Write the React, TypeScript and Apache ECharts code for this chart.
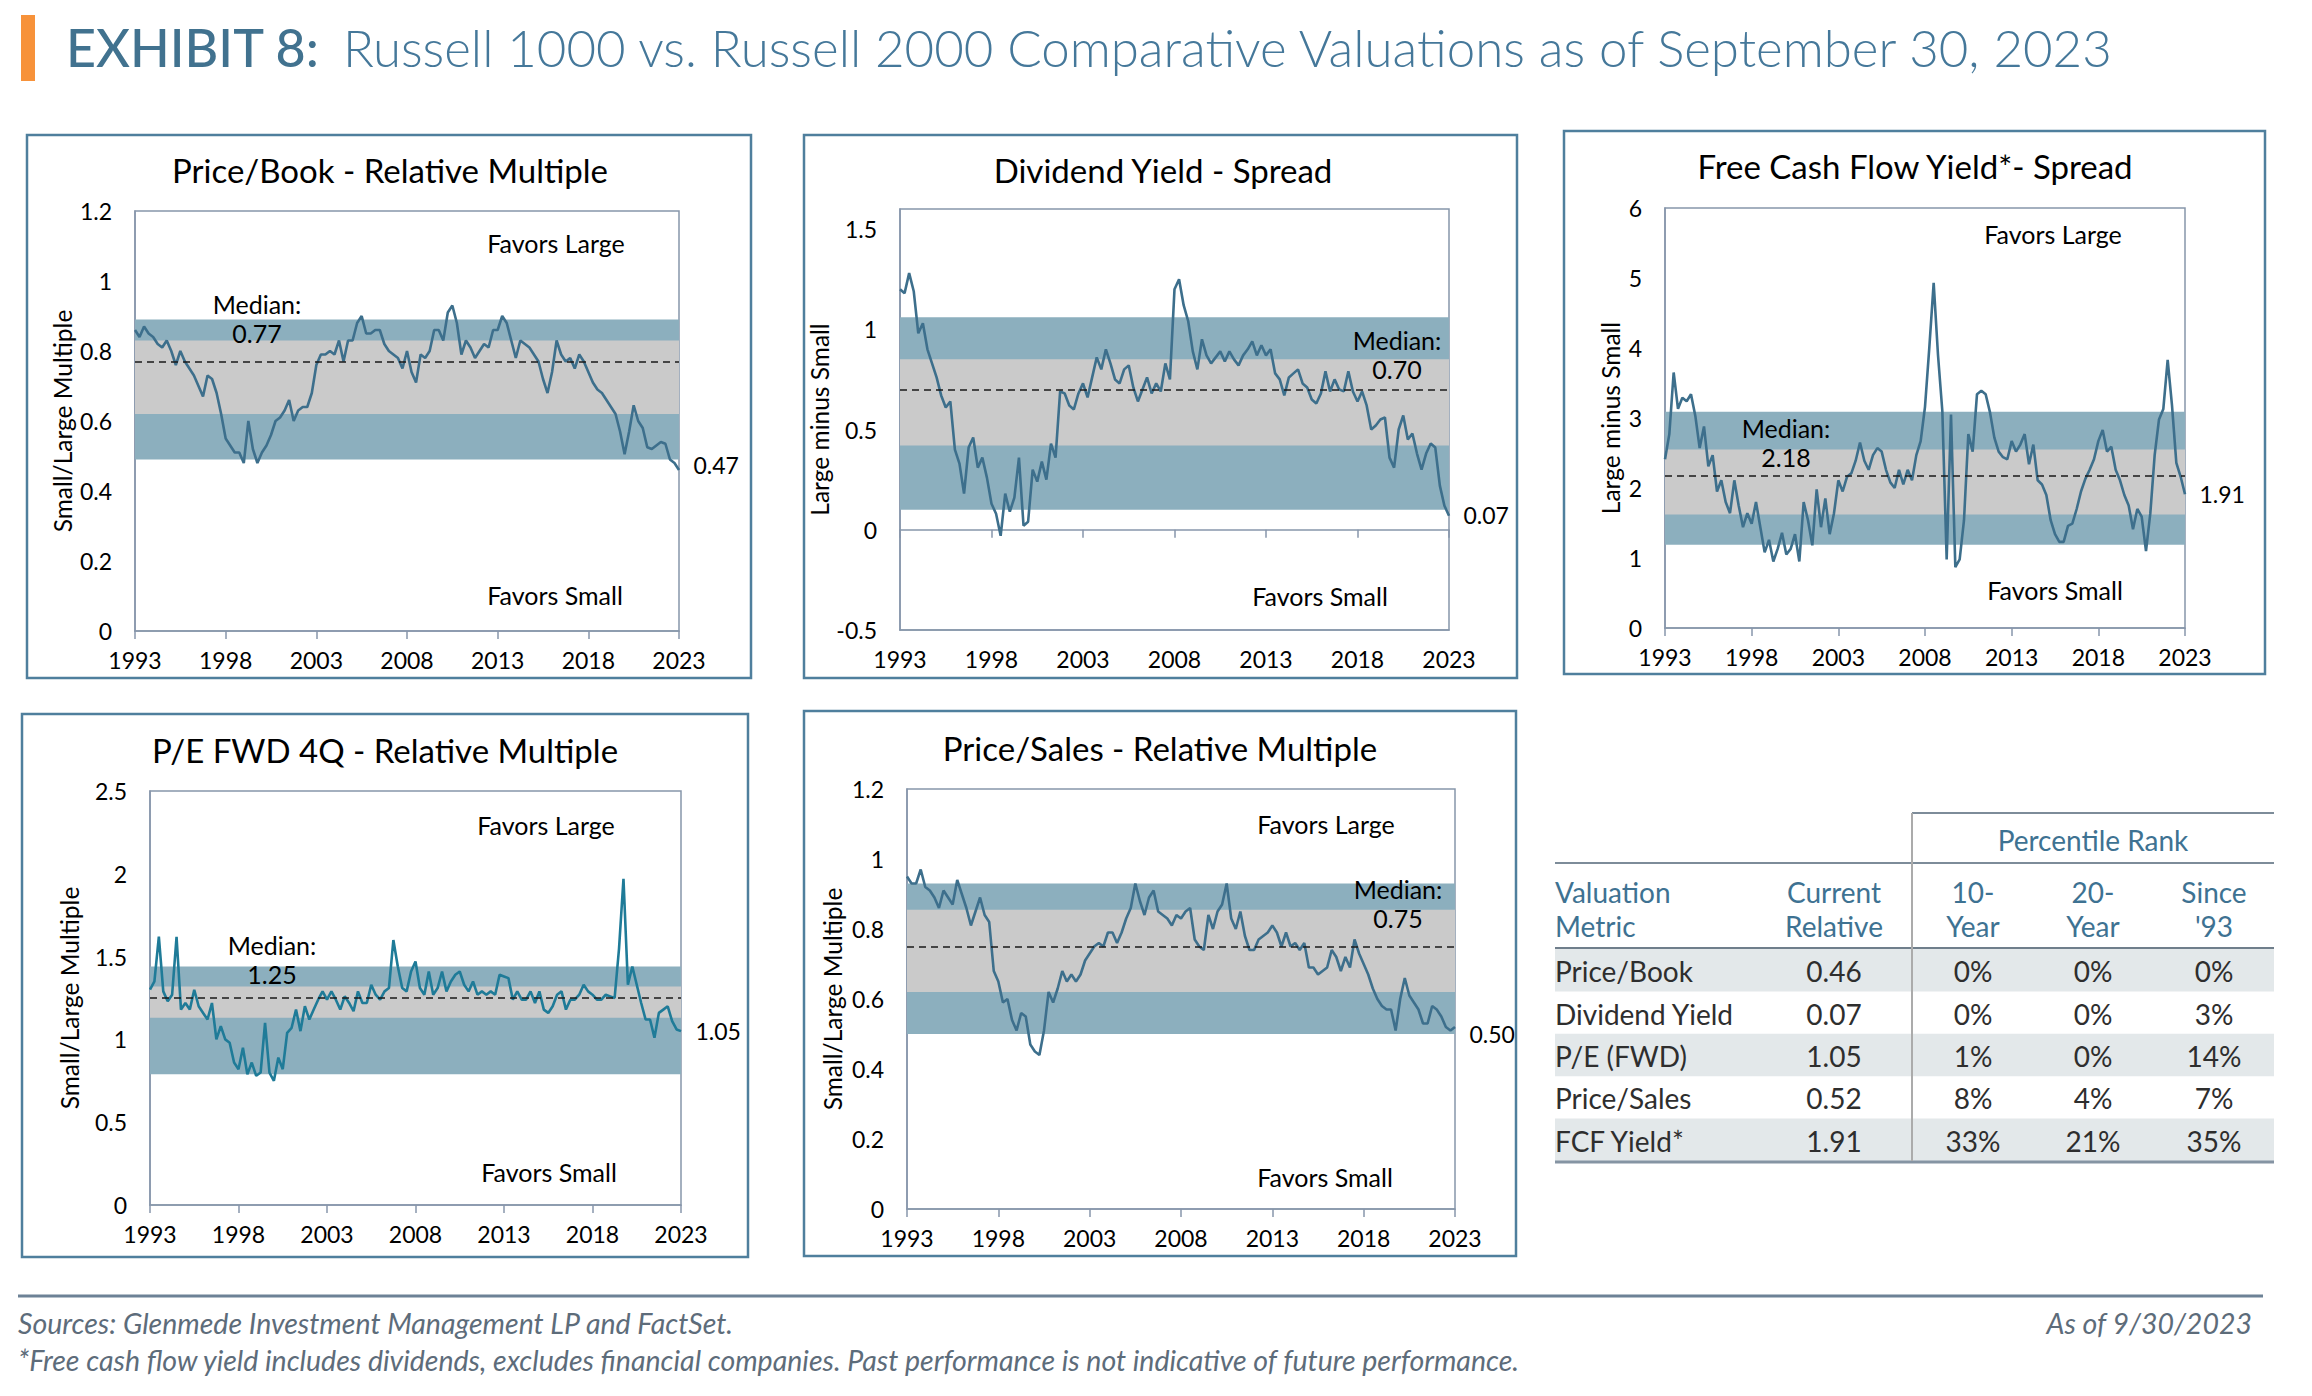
import React, { useEffect, useRef } from "react";
import * as echarts from "echarts";

const FONT = "Lato, 'Noto Sans', 'DejaVu Sans', sans-serif";
const START_YEAR = 1993;
const END_YEAR = 2023;
const STEP_YEARS = 0.25; // quarterly observations
const X_INTERVAL = 5;

// ---- series values (quarterly, Q1 1993 .. 2023) ----
const priceBookValues = [
  0.86, 0.84, 0.87, 0.85, 0.84, 0.82, 0.81, 0.83, 0.8, 0.76, 0.8, 0.77,
  0.75, 0.73, 0.7, 0.67, 0.73, 0.72, 0.68, 0.62, 0.55, 0.53, 0.51, 0.51,
  0.48, 0.6, 0.52, 0.48, 0.51, 0.53, 0.56, 0.6, 0.61, 0.63, 0.66, 0.6,
  0.63, 0.64, 0.64, 0.68, 0.76, 0.79, 0.79, 0.8, 0.79, 0.83, 0.77, 0.83,
  0.83, 0.88, 0.9, 0.85, 0.85, 0.86, 0.86, 0.82, 0.8, 0.79, 0.78, 0.75,
  0.8, 0.74, 0.71, 0.79, 0.78, 0.8, 0.86, 0.86, 0.83, 0.91, 0.93, 0.88,
  0.79, 0.83, 0.81, 0.78, 0.8, 0.82, 0.81, 0.86, 0.86, 0.9, 0.88, 0.83,
  0.78, 0.83, 0.82, 0.81, 0.79, 0.77, 0.72, 0.68, 0.74, 0.83, 0.79, 0.77,
  0.78, 0.75, 0.79, 0.77, 0.74, 0.71, 0.69, 0.68, 0.66, 0.64, 0.62, 0.57,
  0.505, 0.57, 0.645, 0.6, 0.58, 0.525, 0.52, 0.53, 0.54, 0.535, 0.49, 0.48,
  0.46,
];
const dividendSpreadValues = [
  1.2, 1.18, 1.28, 1.19, 0.98, 1.03, 0.9, 0.83, 0.76, 0.67, 0.61, 0.64,
  0.4, 0.33, 0.18, 0.41, 0.46, 0.31, 0.36, 0.26, 0.13, 0.08, -0.03, 0.18,
  0.09, 0.16, 0.36, 0.02, 0.04, 0.3, 0.24, 0.34, 0.25, 0.43, 0.36, 0.69,
  0.68, 0.62, 0.6, 0.68, 0.73, 0.66, 0.76, 0.86, 0.8, 0.9, 0.83, 0.75,
  0.73, 0.8, 0.82, 0.71, 0.64, 0.7, 0.76, 0.68, 0.73, 0.69, 0.83, 0.75,
  1.2, 1.25, 1.12, 1.04, 0.89, 0.8, 0.95, 0.87, 0.83, 0.86, 0.89, 0.84,
  0.89, 0.85, 0.82, 0.87, 0.9, 0.94, 0.87, 0.92, 0.87, 0.9, 0.78, 0.75,
  0.67, 0.76, 0.78, 0.8, 0.73, 0.71, 0.65, 0.63, 0.68, 0.79, 0.69, 0.75,
  0.7, 0.69, 0.79, 0.69, 0.64, 0.69, 0.62, 0.5, 0.52, 0.55, 0.56, 0.36,
  0.31, 0.5, 0.57, 0.45, 0.48, 0.38, 0.3, 0.38, 0.43, 0.41, 0.22, 0.12,
  0.07,
];
const fcfSpreadValues = [
  2.41, 2.77, 3.65, 3.13, 3.29, 3.24, 3.34, 3.03, 2.57, 2.88, 2.31, 2.47,
  1.95, 2.11, 1.8, 1.64, 2.11, 1.75, 1.44, 1.64, 1.49, 1.8, 1.44, 1.08,
  1.26, 0.95, 1.13, 1.36, 1.05, 1.13, 1.34, 0.95, 1.8, 1.54, 1.18, 1.98,
  1.44, 1.85, 1.34, 1.64, 2.11, 1.95, 2.16, 2.21, 2.39, 2.65, 2.39, 2.26,
  2.47, 2.57, 2.52, 2.26, 2.08, 2.0, 2.26, 2.05, 2.26, 2.11, 2.47, 2.67,
  3.16, 4.01, 4.93, 3.9, 3.1, 0.98, 3.05, 0.87, 0.98, 1.54, 2.77, 2.52,
  3.34, 3.39, 3.34, 3.08, 2.72, 2.52, 2.44, 2.41, 2.67, 2.52, 2.62, 2.77,
  2.34, 2.62, 2.11, 2.05, 1.9, 1.54, 1.34, 1.23, 1.23, 1.46, 1.49, 1.7,
  1.95, 2.13, 2.26, 2.41, 2.67, 2.83, 2.52, 2.59, 2.26, 2.11, 1.9, 1.75,
  1.41, 1.7, 1.59, 1.1, 1.64, 2.47, 2.98, 3.13, 3.83, 3.18, 2.36, 2.16,
  1.91,
];
const peFwdValues = [
  1.3, 1.35, 1.62, 1.29, 1.23, 1.27, 1.62, 1.18, 1.22, 1.18, 1.3, 1.2,
  1.16, 1.12, 1.22, 1.0, 1.08, 1.0, 0.98, 0.86, 0.82, 0.95, 0.79, 0.86,
  0.78, 0.8, 1.1, 0.8, 0.75, 0.89, 0.82, 1.04, 1.07, 1.18, 1.05, 1.2,
  1.12, 1.18, 1.24, 1.29, 1.24, 1.29, 1.24, 1.18, 1.26, 1.22, 1.17, 1.29,
  1.22, 1.22, 1.33, 1.27, 1.24, 1.29, 1.31, 1.6, 1.44, 1.31, 1.29, 1.41,
  1.47, 1.31, 1.27, 1.41, 1.27, 1.31, 1.41, 1.29, 1.35, 1.39, 1.41, 1.33,
  1.29, 1.35, 1.27, 1.29, 1.27, 1.29, 1.27, 1.39, 1.38, 1.37, 1.24, 1.29,
  1.24, 1.24, 1.29, 1.22, 1.29, 1.18, 1.16, 1.2, 1.27, 1.29, 1.18, 1.24,
  1.24, 1.27, 1.33, 1.29, 1.27, 1.24, 1.24, 1.27, 1.26, 1.25, 1.55, 1.97,
  1.33, 1.44, 1.33, 1.22, 1.12, 1.12, 1.01, 1.16, 1.18, 1.2, 1.11, 1.06,
  1.05,
];
const priceSalesValues = [
  0.95, 0.93, 0.93, 0.97, 0.92, 0.91, 0.89, 0.86, 0.91, 0.89, 0.87, 0.94,
  0.9, 0.86, 0.81, 0.85, 0.89, 0.84, 0.82, 0.68, 0.65, 0.59, 0.6, 0.54,
  0.51, 0.56, 0.55, 0.47, 0.45, 0.44, 0.51, 0.62, 0.59, 0.63, 0.68, 0.65,
  0.67, 0.65, 0.67, 0.71, 0.73, 0.75, 0.76, 0.75, 0.79, 0.79, 0.76, 0.79,
  0.83, 0.86, 0.93, 0.88, 0.84, 0.89, 0.91, 0.85, 0.84, 0.83, 0.81, 0.84,
  0.83, 0.85, 0.86, 0.77, 0.75, 0.74, 0.84, 0.8, 0.85, 0.87, 0.93, 0.83,
  0.8, 0.85, 0.78, 0.74, 0.74, 0.77, 0.78, 0.79, 0.81, 0.79, 0.75, 0.79,
  0.75, 0.76, 0.74, 0.76, 0.69, 0.69, 0.67, 0.68, 0.69, 0.74, 0.72, 0.68,
  0.72, 0.69, 0.77, 0.73, 0.7, 0.67, 0.63, 0.6, 0.58, 0.57, 0.57, 0.51,
  0.6, 0.66, 0.61, 0.59, 0.57, 0.53, 0.53, 0.58, 0.57, 0.55, 0.52, 0.51,
  0.52,
];

// medians and bands (outer = blue, inner = grey)
const medianValues = [0.77, 0.7, 2.18, 1.25, 0.75];
const medianLabels = ["0.77", "0.70", "2.18", "1.25", "0.75"];
const outerBands = [[0.49, 0.89], [0.1, 1.06], [1.19, 3.09], [0.79, 1.44], [0.5, 0.93]];
const innerBands = [[0.62, 0.83], [0.42, 0.85], [1.62, 2.55], [1.13, 1.32], [0.62, 0.855]];
const currentLabels = ["0.47", "0.07", "1.91", "1.05", "0.50"];

// table
const tableMetrics = ["Price/Book", "Dividend Yield", "P/E (FWD)", "Price/Sales", "FCF Yield*"];
const tableCurrent = ["0.46", "0.07", "1.05", "0.52", "1.91"];
const rank10Year = ["0%", "0%", "1%", "8%", "33%"];
const rank20Year = ["0%", "0%", "0%", "4%", "21%"];
const rankSince93 = ["0%", "3%", "14%", "7%", "35%"];

const BAND_BLUE = "#8cafbe";
const BAND_GREY = "#cacaca";
const AXIS_COLOR = "#8796ab";
const BOX_COLOR = "#4f7f9d";
const HEAD_BLUE = "#3e7292";

const panels = [
  {
    title: "Price/Book - Relative Multiple", yName: "Small/Large Multiple", values: priceBookValues,
    yMin: 0, yMax: 1.2, yInterval: 0.2, lineColor: "#3d6f8c",
    grid: { left: 135, top: 211, width: 544, height: 420 }, box: [27, 135, 724, 543],
    titlePos: [390, 170], nameGap: 62, favorsLarge: [556, 243], favorsSmall: [555, 595], medianPos: [257, 304], endOffset: -5,
  },
  {
    title: "Dividend Yield - Spread", yName: "Large minus Small", values: dividendSpreadValues,
    yMin: -0.5, yMax: 1.6, yInterval: 0.5, lineColor: "#3d6f8c",
    grid: { left: 900, top: 209, width: 549, height: 421 }, box: [804, 135, 713, 543],
    titlePos: [1163, 170], nameGap: 63, favorsLarge: null, favorsSmall: [1320, 596], medianPos: [1397, 340], endOffset: -1,
  },
  {
    title: "Free Cash Flow Yield*- Spread", yName: "Large minus Small", values: fcfSpreadValues,
    yMin: 0, yMax: 6, yInterval: 1, lineColor: "#3d6f8c",
    grid: { left: 1665, top: 208, width: 520, height: 420 }, box: [1564, 131, 701, 543],
    titlePos: [1915, 166], nameGap: 44, favorsLarge: [2053, 234], favorsSmall: [2055, 590], medianPos: [1786, 428], endOffset: 0,
  },
  {
    title: "P/E FWD 4Q - Relative Multiple", yName: "Small/Large Multiple", values: peFwdValues,
    yMin: 0, yMax: 2.5, yInterval: 0.5, lineColor: "#1f7b98",
    grid: { left: 150, top: 791, width: 531, height: 414 }, box: [22, 714, 726, 543],
    titlePos: [385, 750], nameGap: 70, favorsLarge: [546, 825], favorsSmall: [549, 1172], medianPos: [272, 945], endOffset: 0,
  },
  {
    title: "Price/Sales - Relative Multiple", yName: "Small/Large Multiple", values: priceSalesValues,
    yMin: 0, yMax: 1.2, yInterval: 0.2, lineColor: "#3d6f8c",
    grid: { left: 907, top: 789, width: 548, height: 420 }, box: [804, 711, 712, 545],
    titlePos: [1160, 748], nameGap: 64, favorsLarge: [1326, 824], favorsSmall: [1325, 1177], medianPos: [1398, 889], endOffset: 7,
  },
];

const toPairs = (values: number[]) => values.map((v, i) => [START_YEAR + i * STEP_YEARS, v]);

function txt(text: string, x: number, y: number, opts: any = {}) {
  const align = opts.align || "center";
  const vAlign = opts.verticalAlign || "middle";
  return {
    type: "text",
    x,
    y,
    z: 100,
    silent: true,
    style: {
      text,
      fill: opts.color || "#000",
      fontSize: opts.fontSize || 25,
      fontFamily: FONT,
      fontWeight: opts.fontWeight || "normal",
      fontStyle: opts.fontStyle || "normal",
      lineHeight: opts.lineHeight,
      align,
      verticalAlign: vAlign,
      textAlign: align,
      textVerticalAlign: vAlign,
    },
  };
}

function line(x1: number, y1: number, x2: number, y2: number, color: string, width: number) {
  return { type: "line", z: 50, silent: true, shape: { x1, y1, x2, y2 }, style: { stroke: color, lineWidth: width } };
}

function buildOption() {
  const grid = panels.map((p) => ({
    ...p.grid,
    show: true,
    borderColor: AXIS_COLOR,
    borderWidth: 1.5,
    backgroundColor: "transparent",
  }));

  const xBase = (gridIndex: number) => ({
    type: "value",
    gridIndex,
    min: START_YEAR,
    max: END_YEAR,
    interval: X_INTERVAL,
    position: "bottom",
    splitLine: { show: false },
    axisLine: { show: true, onZero: false, lineStyle: { color: AXIS_COLOR, width: 1.5 } },
    axisTick: { show: true, length: 8, lineStyle: { color: AXIS_COLOR, width: 1.5 } },
    axisLabel: {
      show: true,
      margin: 17,
      fontSize: 23,
      fontFamily: FONT,
      color: "#000",
      formatter: (v: number) => String(Math.round(v)),
    },
  });

  const xAxis: any[] = [];
  const seriesXIndex: number[] = [];
  panels.forEach((p, i) => {
    if (p.yMin < 0) {
      const labelsAxis: any = xBase(i);
      labelsAxis.axisTick = { show: false };
      seriesXIndex.push(xAxis.length);
      xAxis.push(labelsAxis);
      const zeroAxis: any = xBase(i);
      zeroAxis.axisLine = { show: true, onZero: true, lineStyle: { color: AXIS_COLOR, width: 1.5 } };
      zeroAxis.axisLabel = { show: false };
      xAxis.push(zeroAxis);
    } else {
      seriesXIndex.push(xAxis.length);
      xAxis.push(xBase(i));
    }
  });

  const yAxis = panels.map((p, i) => ({
    type: "value",
    gridIndex: i,
    min: p.yMin,
    max: p.yMax,
    interval: p.yInterval,
    splitLine: { show: false },
    axisLine: { show: true, onZero: false, lineStyle: { color: AXIS_COLOR, width: 1.5 } },
    axisTick: { show: false },
    axisLabel: { margin: 23, fontSize: 23, fontFamily: FONT, color: "#000", showMaxLabel: p.yMin < 0 ? false : true },
    name: p.yName,
    nameLocation: "middle",
    nameGap: p.nameGap - 2,
    nameTextStyle: { fontSize: 24.5, fontFamily: FONT, color: "#000" },
  }));

  const series = panels.map((p, i) => {
    const data = toPairs(p.values);
    const last = data[data.length - 1];
    return {
      type: "line",
      xAxisIndex: seriesXIndex[i],
      yAxisIndex: i,
      data,
      showSymbol: false,
      symbol: "none",
      silent: true,
      z: 3,
      lineStyle: { color: p.lineColor, width: 2.6 },
      itemStyle: { color: p.lineColor },
      markArea: {
        silent: true,
        data: [
          [{ yAxis: outerBands[i][0], itemStyle: { color: BAND_BLUE } }, { yAxis: outerBands[i][1] }],
          [{ yAxis: innerBands[i][0], itemStyle: { color: BAND_GREY } }, { yAxis: innerBands[i][1] }],
        ],
      },
      markLine: {
        silent: true,
        symbol: ["none", "none"],
        label: { show: false },
        lineStyle: { type: [7, 5], color: "#1a1a1a", width: 1.6 },
        data: [{ yAxis: medianValues[i] }],
      },
      markPoint: {
        silent: true,
        symbol: "circle",
        symbolSize: 1,
        itemStyle: { color: "rgba(0,0,0,0)" },
        label: {
          show: true,
          position: "right",
          distance: 14,
          offset: [0, p.endOffset],
          formatter: currentLabels[i],
          fontSize: 23,
          fontFamily: FONT,
          color: "#000",
        },
        data: [{ coord: last }],
      },
    };
  });

  const graphic: any[] = [];
  // header
  graphic.push({ type: "rect", silent: true, shape: { x: 21, y: 15, width: 14, height: 66 }, style: { fill: "#f7923a" } });
  graphic.push(txt("EXHIBIT 8:", 66, 47, { align: "left", fontSize: 52, fontWeight: 500, color: "#41728f" }));
  graphic.push(
    txt("Russell 1000 vs. Russell 2000 Comparative Valuations as of September 30, 2023", 343, 47, {
      align: "left",
      fontSize: 51,
      fontWeight: 300,
      color: "#45789a",
    })
  );

  // panel boxes, titles and annotations
  panels.forEach((p, i) => {
    graphic.push({
      type: "rect",
      silent: true,
      z: 50,
      shape: { x: p.box[0], y: p.box[1], width: p.box[2], height: p.box[3] },
      style: { fill: "none", stroke: BOX_COLOR, lineWidth: 2.5 },
    });
    graphic.push(txt(p.title, p.titlePos[0], p.titlePos[1], { fontSize: 33 }));
    if (p.favorsLarge) graphic.push(txt("Favors Large", p.favorsLarge[0], p.favorsLarge[1]));
    if (p.favorsSmall) graphic.push(txt("Favors Small", p.favorsSmall[0], p.favorsSmall[1]));
    graphic.push(txt("Median:", p.medianPos[0], p.medianPos[1]));
    graphic.push(txt(medianLabels[i], p.medianPos[0], p.medianPos[1] + 29));
  });

  // table
  const TL = 1555, TR = 2274, VX = 1912;
  const rowTop = 949, rowH = 42.4;
  const cols = [1834, 1973, 2093, 2214];
  tableMetrics.forEach((_, r) => {
    if (r % 2 === 0) {
      graphic.push({
        type: "rect",
        silent: true,
        shape: { x: TL, y: rowTop + r * rowH, width: TR - TL, height: rowH },
        style: { fill: "#e3e8ea" },
      });
    }
  });
  graphic.push(line(VX, 813, TR, 813, "#7d8c99", 2));
  graphic.push(line(TL, 863, TR, 863, "#7d8c99", 2));
  graphic.push(line(TL, 948, TR, 948, "#6f7e8b", 2));
  graphic.push(line(TL, 1162, TR, 1162, "#8594a3", 3));
  graphic.push(line(VX, 813, VX, 1161, "#ababab", 2));
  graphic.push(txt("Percentile Rank", 2093, 840, { fontSize: 28, color: HEAD_BLUE }));
  graphic.push(txt("Valuation\nMetric", TL, 909, { align: "left", fontSize: 28, color: HEAD_BLUE, lineHeight: 34 }));
  graphic.push(txt("Current\nRelative", cols[0], 909, { fontSize: 28, color: HEAD_BLUE, lineHeight: 34 }));
  graphic.push(txt("10-\nYear", cols[1], 909, { fontSize: 28, color: HEAD_BLUE, lineHeight: 34 }));
  graphic.push(txt("20-\nYear", cols[2], 909, { fontSize: 28, color: HEAD_BLUE, lineHeight: 34 }));
  graphic.push(txt("Since\n'93", cols[3], 909, { fontSize: 28, color: HEAD_BLUE, lineHeight: 34 }));
  tableMetrics.forEach((m, r) => {
    const y = rowTop + rowH * (r + 0.5) + 1;
    const c = "#2e2e2e";
    graphic.push(txt(m, TL, y, { align: "left", fontSize: 28, color: c }));
    graphic.push(txt(tableCurrent[r], cols[0], y, { fontSize: 28, color: c }));
    graphic.push(txt(rank10Year[r], cols[1], y, { fontSize: 28, color: c }));
    graphic.push(txt(rank20Year[r], cols[2], y, { fontSize: 28, color: c }));
    graphic.push(txt(rankSince93[r], cols[3], y, { fontSize: 28, color: c }));
  });

  // footer
  graphic.push(line(18, 1296, 2263, 1296, "#6d8296", 3));
  const foot = { fontSize: 28.5, fontStyle: "italic", color: "#5d6c7a" };
  graphic.push(txt("Sources: Glenmede Investment Management LP and FactSet.", 18, 1323, { ...foot, align: "left" }));
  graphic.push(txt("As of 9/30/2023", 2252, 1323, { ...foot, align: "right" }));
  graphic.push(
    txt(
      "*Free cash flow yield includes dividends, excludes financial companies. Past performance is not indicative of future performance.",
      18,
      1360,
      { ...foot, align: "left" }
    )
  );

  return {
    animation: false,
    backgroundColor: "#ffffff",
    textStyle: { fontFamily: FONT },
    grid,
    xAxis,
    yAxis,
    series,
    graphic: { elements: graphic },
  };
}

export default function App() {
  const ref = useRef<HTMLDivElement | null>(null);
  useEffect(() => {
    document.body.style.margin = "0";
    if (!ref.current) return;
    const chart = echarts.init(ref.current, null, { renderer: "svg" });
    chart.setOption(buildOption() as any);
    return () => chart.dispose();
  }, []);
  return <div ref={ref} style={{ width: 2312, height: 1396, background: "#fff" }} />;
}
